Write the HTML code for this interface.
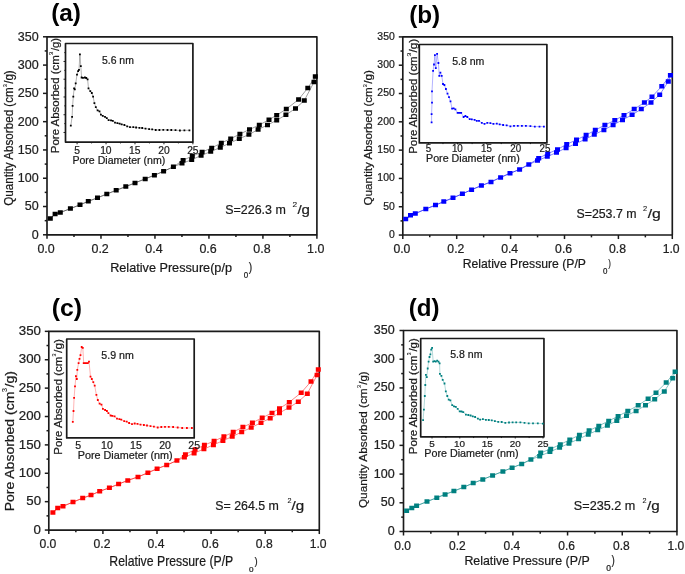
<!DOCTYPE html>
<html><head><meta charset="utf-8"><style>
html,body{margin:0;padding:0;background:#fff;}
svg{display:block;will-change:transform;}
text{font-family:"Liberation Sans", sans-serif;stroke:#1a1a1a;stroke-width:0.22px;}
</style></head><body>
<svg width="685" height="574" viewBox="0 0 685 574">
<rect width="685" height="574" fill="#fff"/>
<rect x="47.00" y="36.80" width="269.90" height="198.00" fill="none" stroke="#1a1a1a" stroke-width="1.65" stroke-linejoin="round"/>
<line x1="43.00" y1="234.80" x2="47.00" y2="234.80" stroke="#1a1a1a" stroke-width="1.5"/>
<text x="31.72" y="238.73" font-size="13.10" font-weight="normal" fill="#222" textLength="6.97" lengthAdjust="spacingAndGlyphs">0</text>
<line x1="44.70" y1="220.66" x2="47.00" y2="220.66" stroke="#1a1a1a" stroke-width="1.5"/>
<line x1="43.00" y1="206.51" x2="47.00" y2="206.51" stroke="#1a1a1a" stroke-width="1.5"/>
<text x="24.77" y="210.45" font-size="13.10" font-weight="normal" fill="#222" textLength="13.93" lengthAdjust="spacingAndGlyphs">50</text>
<line x1="44.70" y1="192.37" x2="47.00" y2="192.37" stroke="#1a1a1a" stroke-width="1.5"/>
<line x1="43.00" y1="178.23" x2="47.00" y2="178.23" stroke="#1a1a1a" stroke-width="1.5"/>
<text x="17.79" y="182.16" font-size="13.10" font-weight="normal" fill="#222" textLength="20.90" lengthAdjust="spacingAndGlyphs">100</text>
<line x1="44.70" y1="164.09" x2="47.00" y2="164.09" stroke="#1a1a1a" stroke-width="1.5"/>
<line x1="43.00" y1="149.94" x2="47.00" y2="149.94" stroke="#1a1a1a" stroke-width="1.5"/>
<text x="17.79" y="153.88" font-size="13.10" font-weight="normal" fill="#222" textLength="20.90" lengthAdjust="spacingAndGlyphs">150</text>
<line x1="44.70" y1="135.80" x2="47.00" y2="135.80" stroke="#1a1a1a" stroke-width="1.5"/>
<line x1="43.00" y1="121.66" x2="47.00" y2="121.66" stroke="#1a1a1a" stroke-width="1.5"/>
<text x="17.79" y="125.59" font-size="13.10" font-weight="normal" fill="#222" textLength="20.90" lengthAdjust="spacingAndGlyphs">200</text>
<line x1="44.70" y1="107.51" x2="47.00" y2="107.51" stroke="#1a1a1a" stroke-width="1.5"/>
<line x1="43.00" y1="93.37" x2="47.00" y2="93.37" stroke="#1a1a1a" stroke-width="1.5"/>
<text x="17.79" y="97.31" font-size="13.10" font-weight="normal" fill="#222" textLength="20.90" lengthAdjust="spacingAndGlyphs">250</text>
<line x1="44.70" y1="79.23" x2="47.00" y2="79.23" stroke="#1a1a1a" stroke-width="1.5"/>
<line x1="43.00" y1="65.09" x2="47.00" y2="65.09" stroke="#1a1a1a" stroke-width="1.5"/>
<text x="17.79" y="69.02" font-size="13.10" font-weight="normal" fill="#222" textLength="20.90" lengthAdjust="spacingAndGlyphs">300</text>
<line x1="44.70" y1="50.94" x2="47.00" y2="50.94" stroke="#1a1a1a" stroke-width="1.5"/>
<line x1="43.00" y1="36.80" x2="47.00" y2="36.80" stroke="#1a1a1a" stroke-width="1.5"/>
<text x="17.79" y="40.73" font-size="13.10" font-weight="normal" fill="#222" textLength="20.90" lengthAdjust="spacingAndGlyphs">350</text>
<line x1="47.00" y1="234.80" x2="47.00" y2="238.80" stroke="#1a1a1a" stroke-width="1.5"/>
<text x="37.42" y="252.50" font-size="13.40" font-weight="normal" fill="#222" textLength="17.32" lengthAdjust="spacingAndGlyphs">0.0</text>
<line x1="73.99" y1="234.80" x2="73.99" y2="237.10" stroke="#1a1a1a" stroke-width="1.5"/>
<line x1="100.98" y1="234.80" x2="100.98" y2="238.80" stroke="#1a1a1a" stroke-width="1.5"/>
<text x="91.48" y="252.50" font-size="13.40" font-weight="normal" fill="#222" textLength="17.32" lengthAdjust="spacingAndGlyphs">0.2</text>
<line x1="127.97" y1="234.80" x2="127.97" y2="237.10" stroke="#1a1a1a" stroke-width="1.5"/>
<line x1="154.96" y1="234.80" x2="154.96" y2="238.80" stroke="#1a1a1a" stroke-width="1.5"/>
<text x="145.32" y="252.50" font-size="13.40" font-weight="normal" fill="#222" textLength="17.32" lengthAdjust="spacingAndGlyphs">0.4</text>
<line x1="181.95" y1="234.80" x2="181.95" y2="237.10" stroke="#1a1a1a" stroke-width="1.5"/>
<line x1="208.94" y1="234.80" x2="208.94" y2="238.80" stroke="#1a1a1a" stroke-width="1.5"/>
<text x="199.39" y="252.50" font-size="13.40" font-weight="normal" fill="#222" textLength="17.32" lengthAdjust="spacingAndGlyphs">0.6</text>
<line x1="235.93" y1="234.80" x2="235.93" y2="237.10" stroke="#1a1a1a" stroke-width="1.5"/>
<line x1="262.92" y1="234.80" x2="262.92" y2="238.80" stroke="#1a1a1a" stroke-width="1.5"/>
<text x="253.37" y="252.50" font-size="13.40" font-weight="normal" fill="#222" textLength="17.32" lengthAdjust="spacingAndGlyphs">0.8</text>
<line x1="289.91" y1="234.80" x2="289.91" y2="237.10" stroke="#1a1a1a" stroke-width="1.5"/>
<line x1="316.90" y1="234.80" x2="316.90" y2="238.80" stroke="#1a1a1a" stroke-width="1.5"/>
<text x="307.11" y="252.50" font-size="13.40" font-weight="normal" fill="#222" textLength="17.32" lengthAdjust="spacingAndGlyphs">1.0</text>
<polyline points="50.30,218.50 55.10,214.10 60.30,212.50 70.40,208.60 80.00,204.80 88.30,201.30 97.50,197.80 106.80,194.00 116.20,190.30 125.80,186.60 135.00,182.90 145.20,178.90 154.40,175.20 163.60,171.30 173.40,166.80 182.00,163.30 191.70,159.80 201.10,155.50 210.70,151.60 220.30,147.50 229.50,143.20 239.30,138.70 248.90,134.60 258.10,129.50 267.50,125.00 276.70,120.30 285.90,114.80 295.50,108.50 304.30,100.50 314.00,82.10 315.30,76.50" fill="none" stroke="#333" stroke-width="0.6" stroke-opacity="0.8"/>
<polyline points="50.30,218.50 55.10,214.10 60.30,212.50 70.40,208.60 80.00,204.80 88.30,201.30 97.50,197.80 106.80,194.00 116.20,190.30 125.80,186.60 135.00,182.90 145.20,178.90 154.40,175.20 163.60,171.30 173.40,166.80 183.10,160.20 192.30,156.10 202.10,152.00 211.70,147.90 221.30,143.00 230.70,138.70 239.90,134.00 249.50,129.50 259.30,125.00 269.00,119.70 276.70,115.20 286.30,109.10 298.60,99.50 307.80,88.00 315.30,76.50" fill="none" stroke="#333" stroke-width="0.6" stroke-opacity="0.8"/>
<path d="M47.80 216.25h5.0v4.5h-5.0zM52.60 211.85h5.0v4.5h-5.0zM57.80 210.25h5.0v4.5h-5.0zM67.90 206.35h5.0v4.5h-5.0zM77.50 202.55h5.0v4.5h-5.0zM85.80 199.05h5.0v4.5h-5.0zM95.00 195.55h5.0v4.5h-5.0zM104.30 191.75h5.0v4.5h-5.0zM113.70 188.05h5.0v4.5h-5.0zM123.30 184.35h5.0v4.5h-5.0zM132.50 180.65h5.0v4.5h-5.0zM142.70 176.65h5.0v4.5h-5.0zM151.90 172.95h5.0v4.5h-5.0zM161.10 169.05h5.0v4.5h-5.0zM170.90 164.55h5.0v4.5h-5.0zM179.50 161.05h5.0v4.5h-5.0zM189.20 157.55h5.0v4.5h-5.0zM198.60 153.25h5.0v4.5h-5.0zM208.20 149.35h5.0v4.5h-5.0zM217.80 145.25h5.0v4.5h-5.0zM227.00 140.95h5.0v4.5h-5.0zM236.80 136.45h5.0v4.5h-5.0zM246.40 132.35h5.0v4.5h-5.0zM255.60 127.25h5.0v4.5h-5.0zM265.00 122.75h5.0v4.5h-5.0zM274.20 118.05h5.0v4.5h-5.0zM283.40 112.55h5.0v4.5h-5.0zM293.00 106.25h5.0v4.5h-5.0zM301.80 98.25h5.0v4.5h-5.0zM311.50 79.85h5.0v4.5h-5.0zM312.80 74.25h5.0v4.5h-5.0zM180.60 157.95h5.0v4.5h-5.0zM189.80 153.85h5.0v4.5h-5.0zM199.60 149.75h5.0v4.5h-5.0zM209.20 145.65h5.0v4.5h-5.0zM218.80 140.75h5.0v4.5h-5.0zM228.20 136.45h5.0v4.5h-5.0zM237.40 131.75h5.0v4.5h-5.0zM247.00 127.25h5.0v4.5h-5.0zM256.80 122.75h5.0v4.5h-5.0zM266.50 117.45h5.0v4.5h-5.0zM274.20 112.95h5.0v4.5h-5.0zM283.80 106.85h5.0v4.5h-5.0zM296.10 97.25h5.0v4.5h-5.0zM305.30 85.75h5.0v4.5h-5.0zM312.80 74.25h5.0v4.5h-5.0z" fill="#000000"/>
<text x="51.18" y="20.80" font-size="23.40" font-weight="bold" style="stroke-width:0px" fill="#000" textLength="29.83" lengthAdjust="spacingAndGlyphs">(a)</text>
<text x="110.15" y="272.20" font-size="13.40" font-weight="normal" fill="#1a1a1a" textLength="121.86" lengthAdjust="spacingAndGlyphs">Relative Pressure(p/p</text>
<text x="243.68" y="277.60" font-size="8.20" font-weight="normal" fill="#1a1a1a" textLength="4.43" lengthAdjust="spacingAndGlyphs">0</text>
<text x="248.82" y="271.00" font-size="12.10" font-weight="normal" fill="#1a1a1a" textLength="3.39" lengthAdjust="spacingAndGlyphs">)</text>
<text transform="translate(12.60,205.20) rotate(-90)" x="-0.55" y="0" font-size="12.30" font-weight="normal" fill="#1a1a1a" textLength="118.53" lengthAdjust="spacingAndGlyphs">Quantity Absorbed (cm</text>
<text transform="translate(7.00,87.00) rotate(-90)" x="-0.21" y="0" font-size="5.80" font-weight="normal" style="stroke-width:0.1px" fill="#1a1a1a" textLength="3.16" lengthAdjust="spacingAndGlyphs">3</text>
<text transform="translate(12.60,83.80) rotate(-90)" x="-0.00" y="0" font-size="12.30" font-weight="normal" fill="#1a1a1a" textLength="13.49" lengthAdjust="spacingAndGlyphs">/g)</text>
<text x="225.24" y="214.00" font-size="13.40" font-weight="normal" fill="#1a1a1a" textLength="60.56" lengthAdjust="spacingAndGlyphs">S=226.3 m</text>
<text x="292.48" y="206.90" font-size="7.60" font-weight="normal" style="stroke-width:0.1px" fill="#1a1a1a" textLength="4.64" lengthAdjust="spacingAndGlyphs">2</text>
<text x="297.40" y="214.00" font-size="13.40" font-weight="normal" fill="#1a1a1a" textLength="12.56" lengthAdjust="spacingAndGlyphs">/g</text>
<rect x="65.50" y="43.50" width="127.40" height="98.60" fill="#fff" stroke="#1a1a1a" stroke-width="1.7" stroke-linejoin="round"/>
<line x1="77.08" y1="142.10" x2="77.08" y2="144.30" stroke="#1a1a1a" stroke-width="1.0"/>
<text x="74.22" y="153.70" font-size="10.30" font-weight="normal" fill="#222" textLength="5.73" lengthAdjust="spacingAndGlyphs">5</text>
<line x1="91.56" y1="142.10" x2="91.56" y2="143.40" stroke="#1a1a1a" stroke-width="1.0"/>
<line x1="106.04" y1="142.10" x2="106.04" y2="144.30" stroke="#1a1a1a" stroke-width="1.0"/>
<text x="100.13" y="153.70" font-size="10.30" font-weight="normal" fill="#222" textLength="11.46" lengthAdjust="spacingAndGlyphs">10</text>
<line x1="120.51" y1="142.10" x2="120.51" y2="143.40" stroke="#1a1a1a" stroke-width="1.0"/>
<line x1="134.99" y1="142.10" x2="134.99" y2="144.30" stroke="#1a1a1a" stroke-width="1.0"/>
<text x="129.09" y="153.70" font-size="10.30" font-weight="normal" fill="#222" textLength="11.46" lengthAdjust="spacingAndGlyphs">15</text>
<line x1="149.47" y1="142.10" x2="149.47" y2="143.40" stroke="#1a1a1a" stroke-width="1.0"/>
<line x1="163.95" y1="142.10" x2="163.95" y2="144.30" stroke="#1a1a1a" stroke-width="1.0"/>
<text x="158.16" y="153.70" font-size="10.30" font-weight="normal" fill="#222" textLength="11.46" lengthAdjust="spacingAndGlyphs">20</text>
<line x1="178.42" y1="142.10" x2="178.42" y2="143.40" stroke="#1a1a1a" stroke-width="1.0"/>
<line x1="192.90" y1="142.10" x2="192.90" y2="144.30" stroke="#1a1a1a" stroke-width="1.0"/>
<text x="187.13" y="153.70" font-size="10.30" font-weight="normal" fill="#222" textLength="11.46" lengthAdjust="spacingAndGlyphs">25</text>
<line x1="64.30" y1="52.60" x2="65.50" y2="52.60" stroke="#111" stroke-width="0.9"/>
<line x1="63.50" y1="61.48" x2="65.50" y2="61.48" stroke="#111" stroke-width="0.9"/>
<line x1="64.30" y1="70.35" x2="65.50" y2="70.35" stroke="#111" stroke-width="0.9"/>
<line x1="63.50" y1="79.22" x2="65.50" y2="79.22" stroke="#111" stroke-width="0.9"/>
<line x1="64.30" y1="88.10" x2="65.50" y2="88.10" stroke="#111" stroke-width="0.9"/>
<line x1="63.50" y1="96.97" x2="65.50" y2="96.97" stroke="#111" stroke-width="0.9"/>
<line x1="64.30" y1="105.85" x2="65.50" y2="105.85" stroke="#111" stroke-width="0.9"/>
<line x1="63.50" y1="114.72" x2="65.50" y2="114.72" stroke="#111" stroke-width="0.9"/>
<line x1="64.30" y1="123.60" x2="65.50" y2="123.60" stroke="#111" stroke-width="0.9"/>
<line x1="63.50" y1="132.47" x2="65.50" y2="132.47" stroke="#111" stroke-width="0.9"/>
<polyline points="70.80,125.60 72.10,116.80 72.60,105.80 73.30,96.70 74.10,88.40 74.80,89.40 75.70,83.30 77.00,74.70 78.10,71.10 79.00,69.80 79.90,54.30 80.80,66.10 81.60,77.50 83.00,77.80 84.90,77.50 86.30,78.00 87.60,79.30 88.50,88.40 90.30,91.20 91.80,93.00 93.10,96.70 94.40,103.10 95.80,107.10 97.60,110.40 99.50,111.30 100.90,114.60 102.80,115.90 105.00,116.80 106.80,118.20 108.60,120.10 111.00,120.40 112.80,120.80 115.00,122.60 117.40,123.20 119.60,123.70 121.70,124.40 124.40,125.00 127.20,126.40 130.00,127.20 133.30,127.20 136.10,127.50 139.40,127.80 142.20,128.00 145.50,128.60 149.10,129.10 152.20,129.40 155.70,130.00 159.40,130.00 163.30,129.80 167.50,130.00 171.30,130.00 175.50,130.20 179.90,130.50 184.40,130.30 189.40,130.30" fill="none" stroke="#000" stroke-width="0.5" stroke-opacity="0.6"/>
<path d="M69.90 124.70h1.8v1.8h-1.8zM71.20 115.90h1.8v1.8h-1.8zM71.70 104.90h1.8v1.8h-1.8zM72.40 95.80h1.8v1.8h-1.8zM73.20 87.50h1.8v1.8h-1.8zM73.90 88.50h1.8v1.8h-1.8zM74.80 82.40h1.8v1.8h-1.8zM76.10 73.80h1.8v1.8h-1.8zM77.20 70.20h1.8v1.8h-1.8zM78.10 68.90h1.8v1.8h-1.8zM79.00 53.40h1.8v1.8h-1.8zM79.90 65.20h1.8v1.8h-1.8zM80.70 76.60h1.8v1.8h-1.8zM82.10 76.90h1.8v1.8h-1.8zM84.00 76.60h1.8v1.8h-1.8zM85.40 77.10h1.8v1.8h-1.8zM86.70 78.40h1.8v1.8h-1.8zM87.60 87.50h1.8v1.8h-1.8zM89.40 90.30h1.8v1.8h-1.8zM90.90 92.10h1.8v1.8h-1.8zM92.20 95.80h1.8v1.8h-1.8zM93.50 102.20h1.8v1.8h-1.8zM94.90 106.20h1.8v1.8h-1.8zM96.70 109.50h1.8v1.8h-1.8zM98.60 110.40h1.8v1.8h-1.8zM100.00 113.70h1.8v1.8h-1.8zM101.90 115.00h1.8v1.8h-1.8zM104.10 115.90h1.8v1.8h-1.8zM105.90 117.30h1.8v1.8h-1.8zM107.70 119.20h1.8v1.8h-1.8zM110.10 119.50h1.8v1.8h-1.8zM111.90 119.90h1.8v1.8h-1.8zM114.10 121.70h1.8v1.8h-1.8zM116.50 122.30h1.8v1.8h-1.8zM118.70 122.80h1.8v1.8h-1.8zM120.80 123.50h1.8v1.8h-1.8zM123.50 124.10h1.8v1.8h-1.8zM126.30 125.50h1.8v1.8h-1.8zM129.10 126.30h1.8v1.8h-1.8zM132.40 126.30h1.8v1.8h-1.8zM135.20 126.60h1.8v1.8h-1.8zM138.50 126.90h1.8v1.8h-1.8zM141.30 127.10h1.8v1.8h-1.8zM144.60 127.70h1.8v1.8h-1.8zM148.20 128.20h1.8v1.8h-1.8zM151.30 128.50h1.8v1.8h-1.8zM154.80 129.10h1.8v1.8h-1.8zM158.50 129.10h1.8v1.8h-1.8zM162.40 128.90h1.8v1.8h-1.8zM166.60 129.10h1.8v1.8h-1.8zM170.40 129.10h1.8v1.8h-1.8zM174.60 129.30h1.8v1.8h-1.8zM179.00 129.60h1.8v1.8h-1.8zM183.50 129.40h1.8v1.8h-1.8zM188.50 129.40h1.8v1.8h-1.8z" fill="#000"/>
<text x="101.98" y="64.20" font-size="10.40" font-weight="normal" fill="#1a1a1a" textLength="31.89" lengthAdjust="spacingAndGlyphs">5.6 nm</text>
<text x="72.43" y="163.80" font-size="10.40" font-weight="normal" fill="#1a1a1a" textLength="92.81" lengthAdjust="spacingAndGlyphs">Pore Diameter (nm)</text>
<text transform="translate(58.80,152.20) rotate(-90)" x="-0.94" y="0" font-size="11.20" font-weight="normal" fill="#1a1a1a" textLength="97.99" lengthAdjust="spacingAndGlyphs">Pore Absorbed (cm</text>
<text transform="translate(52.70,55.00) rotate(-90)" x="-0.24" y="0" font-size="6.00" font-weight="normal" style="stroke-width:0.1px" fill="#1a1a1a" textLength="3.63" lengthAdjust="spacingAndGlyphs">3</text>
<text transform="translate(58.80,51.00) rotate(-90)" x="-0.00" y="0" font-size="11.20" font-weight="normal" fill="#1a1a1a" textLength="13.07" lengthAdjust="spacingAndGlyphs">/g)</text>
<rect x="402.80" y="36.90" width="269.50" height="198.15" fill="none" stroke="#1a1a1a" stroke-width="1.65" stroke-linejoin="round"/>
<line x1="398.80" y1="235.05" x2="402.80" y2="235.05" stroke="#1a1a1a" stroke-width="1.5"/>
<text x="388.92" y="237.89" font-size="10.00" font-weight="normal" fill="#222" textLength="5.78" lengthAdjust="spacingAndGlyphs">0</text>
<line x1="400.50" y1="220.90" x2="402.80" y2="220.90" stroke="#1a1a1a" stroke-width="1.5"/>
<line x1="398.80" y1="206.74" x2="402.80" y2="206.74" stroke="#1a1a1a" stroke-width="1.5"/>
<text x="383.15" y="209.58" font-size="10.00" font-weight="normal" fill="#222" textLength="11.57" lengthAdjust="spacingAndGlyphs">50</text>
<line x1="400.50" y1="192.59" x2="402.80" y2="192.59" stroke="#1a1a1a" stroke-width="1.5"/>
<line x1="398.80" y1="178.44" x2="402.80" y2="178.44" stroke="#1a1a1a" stroke-width="1.5"/>
<text x="377.35" y="181.27" font-size="10.00" font-weight="normal" fill="#222" textLength="17.35" lengthAdjust="spacingAndGlyphs">100</text>
<line x1="400.50" y1="164.28" x2="402.80" y2="164.28" stroke="#1a1a1a" stroke-width="1.5"/>
<line x1="398.80" y1="150.13" x2="402.80" y2="150.13" stroke="#1a1a1a" stroke-width="1.5"/>
<text x="377.35" y="152.97" font-size="10.00" font-weight="normal" fill="#222" textLength="17.35" lengthAdjust="spacingAndGlyphs">150</text>
<line x1="400.50" y1="135.98" x2="402.80" y2="135.98" stroke="#1a1a1a" stroke-width="1.5"/>
<line x1="398.80" y1="121.82" x2="402.80" y2="121.82" stroke="#1a1a1a" stroke-width="1.5"/>
<text x="377.35" y="124.66" font-size="10.00" font-weight="normal" fill="#222" textLength="17.35" lengthAdjust="spacingAndGlyphs">200</text>
<line x1="400.50" y1="107.67" x2="402.80" y2="107.67" stroke="#1a1a1a" stroke-width="1.5"/>
<line x1="398.80" y1="93.51" x2="402.80" y2="93.51" stroke="#1a1a1a" stroke-width="1.5"/>
<text x="377.35" y="96.35" font-size="10.00" font-weight="normal" fill="#222" textLength="17.35" lengthAdjust="spacingAndGlyphs">250</text>
<line x1="400.50" y1="79.36" x2="402.80" y2="79.36" stroke="#1a1a1a" stroke-width="1.5"/>
<line x1="398.80" y1="65.21" x2="402.80" y2="65.21" stroke="#1a1a1a" stroke-width="1.5"/>
<text x="377.35" y="68.04" font-size="10.00" font-weight="normal" fill="#222" textLength="17.35" lengthAdjust="spacingAndGlyphs">300</text>
<line x1="400.50" y1="51.05" x2="402.80" y2="51.05" stroke="#1a1a1a" stroke-width="1.5"/>
<line x1="398.80" y1="36.90" x2="402.80" y2="36.90" stroke="#1a1a1a" stroke-width="1.5"/>
<text x="377.35" y="39.74" font-size="10.00" font-weight="normal" fill="#222" textLength="17.35" lengthAdjust="spacingAndGlyphs">350</text>
<line x1="402.80" y1="235.05" x2="402.80" y2="239.05" stroke="#1a1a1a" stroke-width="1.5"/>
<text x="393.41" y="252.70" font-size="12.20" font-weight="normal" fill="#222" textLength="16.96" lengthAdjust="spacingAndGlyphs">0.0</text>
<line x1="429.75" y1="235.05" x2="429.75" y2="237.35" stroke="#1a1a1a" stroke-width="1.5"/>
<line x1="456.70" y1="235.05" x2="456.70" y2="239.05" stroke="#1a1a1a" stroke-width="1.5"/>
<text x="447.38" y="252.70" font-size="12.20" font-weight="normal" fill="#222" textLength="16.96" lengthAdjust="spacingAndGlyphs">0.2</text>
<line x1="483.65" y1="235.05" x2="483.65" y2="237.35" stroke="#1a1a1a" stroke-width="1.5"/>
<line x1="510.60" y1="235.05" x2="510.60" y2="239.05" stroke="#1a1a1a" stroke-width="1.5"/>
<text x="501.14" y="252.70" font-size="12.20" font-weight="normal" fill="#222" textLength="16.96" lengthAdjust="spacingAndGlyphs">0.4</text>
<line x1="537.55" y1="235.05" x2="537.55" y2="237.35" stroke="#1a1a1a" stroke-width="1.5"/>
<line x1="564.50" y1="235.05" x2="564.50" y2="239.05" stroke="#1a1a1a" stroke-width="1.5"/>
<text x="555.14" y="252.70" font-size="12.20" font-weight="normal" fill="#222" textLength="16.96" lengthAdjust="spacingAndGlyphs">0.6</text>
<line x1="591.45" y1="235.05" x2="591.45" y2="237.35" stroke="#1a1a1a" stroke-width="1.5"/>
<line x1="618.40" y1="235.05" x2="618.40" y2="239.05" stroke="#1a1a1a" stroke-width="1.5"/>
<text x="609.04" y="252.70" font-size="12.20" font-weight="normal" fill="#222" textLength="16.96" lengthAdjust="spacingAndGlyphs">0.8</text>
<line x1="645.35" y1="235.05" x2="645.35" y2="237.35" stroke="#1a1a1a" stroke-width="1.5"/>
<line x1="672.30" y1="235.05" x2="672.30" y2="239.05" stroke="#1a1a1a" stroke-width="1.5"/>
<text x="662.69" y="252.70" font-size="12.20" font-weight="normal" fill="#222" textLength="16.96" lengthAdjust="spacingAndGlyphs">1.0</text>
<polyline points="405.70,219.10 410.50,215.30 415.30,213.60 425.80,209.00 435.50,205.10 443.80,201.60 453.00,197.80 462.40,193.80 471.60,189.70 481.40,185.60 491.00,181.90 500.60,177.40 510.00,173.30 519.60,169.40 528.80,164.50 537.50,160.60 547.30,156.50 556.50,152.60 566.10,147.90 575.50,143.80 585.10,139.30 594.30,134.60 603.90,129.90 613.10,125.00 622.50,119.90 632.10,114.80 641.30,109.10 651.00,102.50 659.70,94.80 668.30,81.50 670.40,75.30" fill="none" stroke="#0000ff" stroke-width="0.6" stroke-opacity="0.8"/>
<polyline points="405.70,219.10 410.50,215.30 415.30,213.60 425.80,209.00 435.50,205.10 443.80,201.60 453.00,197.80 462.40,193.80 471.60,189.70 481.40,185.60 491.00,181.90 500.60,177.40 510.00,173.30 519.60,169.40 528.80,164.50 538.70,158.20 547.70,153.70 557.50,149.40 566.70,144.30 576.50,139.80 586.10,135.10 595.30,130.10 604.90,125.00 614.80,120.30 624.00,115.20 634.20,109.10 644.40,102.50 652.00,96.80 661.80,86.20 670.40,75.30" fill="none" stroke="#0000ff" stroke-width="0.6" stroke-opacity="0.8"/>
<path d="M403.20 216.85h5.0v4.5h-5.0zM408.00 213.05h5.0v4.5h-5.0zM412.80 211.35h5.0v4.5h-5.0zM423.30 206.75h5.0v4.5h-5.0zM433.00 202.85h5.0v4.5h-5.0zM441.30 199.35h5.0v4.5h-5.0zM450.50 195.55h5.0v4.5h-5.0zM459.90 191.55h5.0v4.5h-5.0zM469.10 187.45h5.0v4.5h-5.0zM478.90 183.35h5.0v4.5h-5.0zM488.50 179.65h5.0v4.5h-5.0zM498.10 175.15h5.0v4.5h-5.0zM507.50 171.05h5.0v4.5h-5.0zM517.10 167.15h5.0v4.5h-5.0zM526.30 162.25h5.0v4.5h-5.0zM535.00 158.35h5.0v4.5h-5.0zM544.80 154.25h5.0v4.5h-5.0zM554.00 150.35h5.0v4.5h-5.0zM563.60 145.65h5.0v4.5h-5.0zM573.00 141.55h5.0v4.5h-5.0zM582.60 137.05h5.0v4.5h-5.0zM591.80 132.35h5.0v4.5h-5.0zM601.40 127.65h5.0v4.5h-5.0zM610.60 122.75h5.0v4.5h-5.0zM620.00 117.65h5.0v4.5h-5.0zM629.60 112.55h5.0v4.5h-5.0zM638.80 106.85h5.0v4.5h-5.0zM648.50 100.25h5.0v4.5h-5.0zM657.20 92.55h5.0v4.5h-5.0zM665.80 79.25h5.0v4.5h-5.0zM667.90 73.05h5.0v4.5h-5.0zM536.20 155.95h5.0v4.5h-5.0zM545.20 151.45h5.0v4.5h-5.0zM555.00 147.15h5.0v4.5h-5.0zM564.20 142.05h5.0v4.5h-5.0zM574.00 137.55h5.0v4.5h-5.0zM583.60 132.85h5.0v4.5h-5.0zM592.80 127.85h5.0v4.5h-5.0zM602.40 122.75h5.0v4.5h-5.0zM612.30 118.05h5.0v4.5h-5.0zM621.50 112.95h5.0v4.5h-5.0zM631.70 106.85h5.0v4.5h-5.0zM641.90 100.25h5.0v4.5h-5.0zM649.50 94.55h5.0v4.5h-5.0zM659.30 83.95h5.0v4.5h-5.0zM667.90 73.05h5.0v4.5h-5.0z" fill="#0000ff"/>
<text x="409.19" y="22.80" font-size="23.40" font-weight="bold" style="stroke-width:0px" fill="#000" textLength="31.01" lengthAdjust="spacingAndGlyphs">(b)</text>
<text x="462.69" y="268.10" font-size="13.40" font-weight="normal" fill="#1a1a1a" textLength="123.24" lengthAdjust="spacingAndGlyphs">Relative Pressure (P/P</text>
<text x="602.88" y="273.50" font-size="8.20" font-weight="normal" fill="#1a1a1a" textLength="4.43" lengthAdjust="spacingAndGlyphs">0</text>
<text x="608.34" y="267.10" font-size="11.70" font-weight="normal" fill="#1a1a1a" textLength="2.64" lengthAdjust="spacingAndGlyphs">)</text>
<text transform="translate(372.20,204.90) rotate(-90)" x="-0.55" y="0" font-size="11.50" font-weight="normal" fill="#1a1a1a" textLength="118.23" lengthAdjust="spacingAndGlyphs">Quantity Absorbed (cm</text>
<text transform="translate(367.10,87.00) rotate(-90)" x="-0.21" y="0" font-size="5.60" font-weight="normal" style="stroke-width:0.1px" fill="#1a1a1a" textLength="3.04" lengthAdjust="spacingAndGlyphs">3</text>
<text transform="translate(372.20,83.80) rotate(-90)" x="-0.00" y="0" font-size="11.50" font-weight="normal" fill="#1a1a1a" textLength="13.59" lengthAdjust="spacingAndGlyphs">/g)</text>
<text x="576.44" y="218.10" font-size="13.20" font-weight="normal" fill="#1a1a1a" textLength="60.05" lengthAdjust="spacingAndGlyphs">S=253.7 m</text>
<text x="643.13" y="211.00" font-size="7.20" font-weight="normal" style="stroke-width:0.1px" fill="#1a1a1a" textLength="4.16" lengthAdjust="spacingAndGlyphs">2</text>
<text x="647.70" y="218.10" font-size="13.20" font-weight="normal" fill="#1a1a1a" textLength="13.11" lengthAdjust="spacingAndGlyphs">/g</text>
<rect x="419.30" y="44.50" width="127.60" height="98.40" fill="#fff" stroke="#1a1a1a" stroke-width="1.7" stroke-linejoin="round"/>
<line x1="428.39" y1="142.90" x2="428.39" y2="144.40" stroke="#1a1a1a" stroke-width="1.0"/>
<text x="425.68" y="151.50" font-size="10.30" font-weight="normal" fill="#222" textLength="5.44" lengthAdjust="spacingAndGlyphs">5</text>
<line x1="442.97" y1="142.90" x2="442.97" y2="144.10" stroke="#1a1a1a" stroke-width="1.0"/>
<line x1="457.54" y1="142.90" x2="457.54" y2="144.40" stroke="#1a1a1a" stroke-width="1.0"/>
<text x="451.93" y="151.50" font-size="10.30" font-weight="normal" fill="#222" textLength="10.88" lengthAdjust="spacingAndGlyphs">10</text>
<line x1="472.11" y1="142.90" x2="472.11" y2="144.10" stroke="#1a1a1a" stroke-width="1.0"/>
<line x1="486.68" y1="142.90" x2="486.68" y2="144.40" stroke="#1a1a1a" stroke-width="1.0"/>
<text x="481.08" y="151.50" font-size="10.30" font-weight="normal" fill="#222" textLength="10.88" lengthAdjust="spacingAndGlyphs">15</text>
<line x1="501.26" y1="142.90" x2="501.26" y2="144.10" stroke="#1a1a1a" stroke-width="1.0"/>
<line x1="515.83" y1="142.90" x2="515.83" y2="144.40" stroke="#1a1a1a" stroke-width="1.0"/>
<text x="510.34" y="151.50" font-size="10.30" font-weight="normal" fill="#222" textLength="10.88" lengthAdjust="spacingAndGlyphs">20</text>
<line x1="530.40" y1="142.90" x2="530.40" y2="144.10" stroke="#1a1a1a" stroke-width="1.0"/>
<line x1="544.98" y1="142.90" x2="544.98" y2="144.40" stroke="#1a1a1a" stroke-width="1.0"/>
<text x="539.50" y="151.50" font-size="10.30" font-weight="normal" fill="#222" textLength="10.88" lengthAdjust="spacingAndGlyphs">25</text>
<polyline points="431.60,122.40 431.60,114.20 432.00,102.70 432.00,91.40 433.10,70.90 434.00,64.50 434.90,55.20 435.80,68.10 437.10,53.90 438.40,63.00 439.30,75.80 440.40,72.70 441.70,75.80 443.00,84.00 444.40,85.00 445.90,89.00 447.50,93.60 449.00,97.20 450.50,101.40 452.10,108.70 453.60,108.40 455.40,109.30 457.60,112.80 459.40,112.80 461.20,112.90 463.60,117.00 465.40,116.00 467.30,117.00 469.70,119.10 471.80,119.30 474.60,119.80 476.80,120.80 479.00,120.80 481.80,122.80 484.50,123.90 487.30,122.80 490.40,123.10 493.40,123.90 496.80,123.70 499.70,124.40 503.10,125.00 506.70,125.30 510.40,126.30 514.00,125.90 517.80,125.90 521.90,125.90 525.90,125.90 530.40,126.10 534.80,126.60 539.50,126.60 543.90,126.60" fill="none" stroke="#0000ff" stroke-width="0.5" stroke-opacity="0.6"/>
<path d="M430.70 121.50h1.8v1.8h-1.8zM430.70 113.30h1.8v1.8h-1.8zM431.10 101.80h1.8v1.8h-1.8zM431.10 90.50h1.8v1.8h-1.8zM432.20 70.00h1.8v1.8h-1.8zM433.10 63.60h1.8v1.8h-1.8zM434.00 54.30h1.8v1.8h-1.8zM434.90 67.20h1.8v1.8h-1.8zM436.20 53.00h1.8v1.8h-1.8zM437.50 62.10h1.8v1.8h-1.8zM438.40 74.90h1.8v1.8h-1.8zM439.50 71.80h1.8v1.8h-1.8zM440.80 74.90h1.8v1.8h-1.8zM442.10 83.10h1.8v1.8h-1.8zM443.50 84.10h1.8v1.8h-1.8zM445.00 88.10h1.8v1.8h-1.8zM446.60 92.70h1.8v1.8h-1.8zM448.10 96.30h1.8v1.8h-1.8zM449.60 100.50h1.8v1.8h-1.8zM451.20 107.80h1.8v1.8h-1.8zM452.70 107.50h1.8v1.8h-1.8zM454.50 108.40h1.8v1.8h-1.8zM456.70 111.90h1.8v1.8h-1.8zM458.50 111.90h1.8v1.8h-1.8zM460.30 112.00h1.8v1.8h-1.8zM462.70 116.10h1.8v1.8h-1.8zM464.50 115.10h1.8v1.8h-1.8zM466.40 116.10h1.8v1.8h-1.8zM468.80 118.20h1.8v1.8h-1.8zM470.90 118.40h1.8v1.8h-1.8zM473.70 118.90h1.8v1.8h-1.8zM475.90 119.90h1.8v1.8h-1.8zM478.10 119.90h1.8v1.8h-1.8zM480.90 121.90h1.8v1.8h-1.8zM483.60 123.00h1.8v1.8h-1.8zM486.40 121.90h1.8v1.8h-1.8zM489.50 122.20h1.8v1.8h-1.8zM492.50 123.00h1.8v1.8h-1.8zM495.90 122.80h1.8v1.8h-1.8zM498.80 123.50h1.8v1.8h-1.8zM502.20 124.10h1.8v1.8h-1.8zM505.80 124.40h1.8v1.8h-1.8zM509.50 125.40h1.8v1.8h-1.8zM513.10 125.00h1.8v1.8h-1.8zM516.90 125.00h1.8v1.8h-1.8zM521.00 125.00h1.8v1.8h-1.8zM525.00 125.00h1.8v1.8h-1.8zM529.50 125.20h1.8v1.8h-1.8zM533.90 125.70h1.8v1.8h-1.8zM538.60 125.70h1.8v1.8h-1.8zM543.00 125.70h1.8v1.8h-1.8z" fill="#0000ff"/>
<text x="452.18" y="64.90" font-size="10.50" font-weight="normal" fill="#1a1a1a" textLength="32.20" lengthAdjust="spacingAndGlyphs">5.8 nm</text>
<text x="426.02" y="161.50" font-size="10.00" font-weight="normal" fill="#1a1a1a" textLength="93.82" lengthAdjust="spacingAndGlyphs">Pore Diameter (nm)</text>
<text transform="translate(416.50,152.80) rotate(-90)" x="-0.94" y="0" font-size="10.80" font-weight="normal" fill="#1a1a1a" textLength="97.27" lengthAdjust="spacingAndGlyphs">Pore Absorbed (cm</text>
<text transform="translate(411.20,56.30) rotate(-90)" x="-0.26" y="0" font-size="6.00" font-weight="normal" style="stroke-width:0.1px" fill="#1a1a1a" textLength="3.86" lengthAdjust="spacingAndGlyphs">3</text>
<text transform="translate(416.50,52.60) rotate(-90)" x="-0.00" y="0" font-size="10.80" font-weight="normal" fill="#1a1a1a" textLength="13.70" lengthAdjust="spacingAndGlyphs">/g)</text>
<rect x="48.80" y="331.35" width="270.50" height="198.70" fill="none" stroke="#1a1a1a" stroke-width="1.65" stroke-linejoin="round"/>
<line x1="44.80" y1="530.05" x2="48.80" y2="530.05" stroke="#1a1a1a" stroke-width="1.5"/>
<text x="33.63" y="533.70" font-size="12.30" font-weight="normal" fill="#222" textLength="7.39" lengthAdjust="spacingAndGlyphs">0</text>
<line x1="46.50" y1="515.86" x2="48.80" y2="515.86" stroke="#1a1a1a" stroke-width="1.5"/>
<line x1="44.80" y1="501.66" x2="48.80" y2="501.66" stroke="#1a1a1a" stroke-width="1.5"/>
<text x="26.25" y="505.32" font-size="12.30" font-weight="normal" fill="#222" textLength="14.78" lengthAdjust="spacingAndGlyphs">50</text>
<line x1="46.50" y1="487.47" x2="48.80" y2="487.47" stroke="#1a1a1a" stroke-width="1.5"/>
<line x1="44.80" y1="473.28" x2="48.80" y2="473.28" stroke="#1a1a1a" stroke-width="1.5"/>
<text x="18.85" y="476.93" font-size="12.30" font-weight="normal" fill="#222" textLength="22.16" lengthAdjust="spacingAndGlyphs">100</text>
<line x1="46.50" y1="459.09" x2="48.80" y2="459.09" stroke="#1a1a1a" stroke-width="1.5"/>
<line x1="44.80" y1="444.89" x2="48.80" y2="444.89" stroke="#1a1a1a" stroke-width="1.5"/>
<text x="18.85" y="448.54" font-size="12.30" font-weight="normal" fill="#222" textLength="22.16" lengthAdjust="spacingAndGlyphs">150</text>
<line x1="46.50" y1="430.70" x2="48.80" y2="430.70" stroke="#1a1a1a" stroke-width="1.5"/>
<line x1="44.80" y1="416.51" x2="48.80" y2="416.51" stroke="#1a1a1a" stroke-width="1.5"/>
<text x="18.85" y="420.16" font-size="12.30" font-weight="normal" fill="#222" textLength="22.16" lengthAdjust="spacingAndGlyphs">200</text>
<line x1="46.50" y1="402.31" x2="48.80" y2="402.31" stroke="#1a1a1a" stroke-width="1.5"/>
<line x1="44.80" y1="388.12" x2="48.80" y2="388.12" stroke="#1a1a1a" stroke-width="1.5"/>
<text x="18.85" y="391.77" font-size="12.30" font-weight="normal" fill="#222" textLength="22.16" lengthAdjust="spacingAndGlyphs">250</text>
<line x1="46.50" y1="373.93" x2="48.80" y2="373.93" stroke="#1a1a1a" stroke-width="1.5"/>
<line x1="44.80" y1="359.74" x2="48.80" y2="359.74" stroke="#1a1a1a" stroke-width="1.5"/>
<text x="18.85" y="363.39" font-size="12.30" font-weight="normal" fill="#222" textLength="22.16" lengthAdjust="spacingAndGlyphs">300</text>
<line x1="46.50" y1="345.54" x2="48.80" y2="345.54" stroke="#1a1a1a" stroke-width="1.5"/>
<line x1="44.80" y1="331.35" x2="48.80" y2="331.35" stroke="#1a1a1a" stroke-width="1.5"/>
<text x="18.85" y="335.00" font-size="12.30" font-weight="normal" fill="#222" textLength="22.16" lengthAdjust="spacingAndGlyphs">350</text>
<line x1="48.80" y1="530.05" x2="48.80" y2="534.05" stroke="#1a1a1a" stroke-width="1.5"/>
<text x="39.43" y="547.90" font-size="12.60" font-weight="normal" fill="#222" textLength="16.90" lengthAdjust="spacingAndGlyphs">0.0</text>
<line x1="75.85" y1="530.05" x2="75.85" y2="532.35" stroke="#1a1a1a" stroke-width="1.5"/>
<line x1="102.90" y1="530.05" x2="102.90" y2="534.05" stroke="#1a1a1a" stroke-width="1.5"/>
<text x="93.61" y="547.90" font-size="12.60" font-weight="normal" fill="#222" textLength="16.90" lengthAdjust="spacingAndGlyphs">0.2</text>
<line x1="129.95" y1="530.05" x2="129.95" y2="532.35" stroke="#1a1a1a" stroke-width="1.5"/>
<line x1="157.00" y1="530.05" x2="157.00" y2="534.05" stroke="#1a1a1a" stroke-width="1.5"/>
<text x="147.57" y="547.90" font-size="12.60" font-weight="normal" fill="#222" textLength="16.90" lengthAdjust="spacingAndGlyphs">0.4</text>
<line x1="184.05" y1="530.05" x2="184.05" y2="532.35" stroke="#1a1a1a" stroke-width="1.5"/>
<line x1="211.10" y1="530.05" x2="211.10" y2="534.05" stroke="#1a1a1a" stroke-width="1.5"/>
<text x="201.76" y="547.90" font-size="12.60" font-weight="normal" fill="#222" textLength="16.90" lengthAdjust="spacingAndGlyphs">0.6</text>
<line x1="238.15" y1="530.05" x2="238.15" y2="532.35" stroke="#1a1a1a" stroke-width="1.5"/>
<line x1="265.20" y1="530.05" x2="265.20" y2="534.05" stroke="#1a1a1a" stroke-width="1.5"/>
<text x="255.86" y="547.90" font-size="12.60" font-weight="normal" fill="#222" textLength="16.90" lengthAdjust="spacingAndGlyphs">0.8</text>
<line x1="292.25" y1="530.05" x2="292.25" y2="532.35" stroke="#1a1a1a" stroke-width="1.5"/>
<line x1="319.30" y1="530.05" x2="319.30" y2="534.05" stroke="#1a1a1a" stroke-width="1.5"/>
<text x="309.72" y="547.90" font-size="12.60" font-weight="normal" fill="#222" textLength="16.90" lengthAdjust="spacingAndGlyphs">1.0</text>
<polyline points="52.90,512.60 57.70,507.90 63.00,506.20 73.00,502.10 82.70,498.10 91.00,495.10 99.70,491.30 109.40,487.80 118.60,484.10 127.80,480.40 138.00,476.90 147.90,472.80 157.10,468.70 166.70,465.10 176.90,460.60 184.40,457.30 194.10,453.20 203.90,449.00 213.40,444.90 222.90,440.70 232.20,436.60 241.70,432.00 251.20,427.60 261.00,422.70 270.20,418.30 279.50,412.90 289.00,407.60 298.30,401.70 307.30,393.70 317.10,375.10 318.30,369.50" fill="none" stroke="#ff0000" stroke-width="0.6" stroke-opacity="0.8"/>
<polyline points="52.90,512.60 57.70,507.90 63.00,506.20 73.00,502.10 82.70,498.10 91.00,495.10 99.70,491.30 109.40,487.80 118.60,484.10 127.80,480.40 138.00,476.90 147.90,472.80 157.10,468.70 166.70,465.10 176.90,460.60 185.40,454.40 195.10,449.50 204.40,445.10 214.10,441.00 223.90,436.60 233.20,432.00 242.90,427.10 252.40,422.70 262.20,417.80 272.00,412.90 279.50,408.50 289.30,402.20 301.20,392.70 311.00,381.50 318.30,369.50" fill="none" stroke="#ff0000" stroke-width="0.6" stroke-opacity="0.8"/>
<path d="M50.40 510.35h5.0v4.5h-5.0zM55.20 505.65h5.0v4.5h-5.0zM60.50 503.95h5.0v4.5h-5.0zM70.50 499.85h5.0v4.5h-5.0zM80.20 495.85h5.0v4.5h-5.0zM88.50 492.85h5.0v4.5h-5.0zM97.20 489.05h5.0v4.5h-5.0zM106.90 485.55h5.0v4.5h-5.0zM116.10 481.85h5.0v4.5h-5.0zM125.30 478.15h5.0v4.5h-5.0zM135.50 474.65h5.0v4.5h-5.0zM145.40 470.55h5.0v4.5h-5.0zM154.60 466.45h5.0v4.5h-5.0zM164.20 462.85h5.0v4.5h-5.0zM174.40 458.35h5.0v4.5h-5.0zM181.90 455.05h5.0v4.5h-5.0zM191.60 450.95h5.0v4.5h-5.0zM201.40 446.75h5.0v4.5h-5.0zM210.90 442.65h5.0v4.5h-5.0zM220.40 438.45h5.0v4.5h-5.0zM229.70 434.35h5.0v4.5h-5.0zM239.20 429.75h5.0v4.5h-5.0zM248.70 425.35h5.0v4.5h-5.0zM258.50 420.45h5.0v4.5h-5.0zM267.70 416.05h5.0v4.5h-5.0zM277.00 410.65h5.0v4.5h-5.0zM286.50 405.35h5.0v4.5h-5.0zM295.80 399.45h5.0v4.5h-5.0zM304.80 391.45h5.0v4.5h-5.0zM314.60 372.85h5.0v4.5h-5.0zM315.80 367.25h5.0v4.5h-5.0zM182.90 452.15h5.0v4.5h-5.0zM192.60 447.25h5.0v4.5h-5.0zM201.90 442.85h5.0v4.5h-5.0zM211.60 438.75h5.0v4.5h-5.0zM221.40 434.35h5.0v4.5h-5.0zM230.70 429.75h5.0v4.5h-5.0zM240.40 424.85h5.0v4.5h-5.0zM249.90 420.45h5.0v4.5h-5.0zM259.70 415.55h5.0v4.5h-5.0zM269.50 410.65h5.0v4.5h-5.0zM277.00 406.25h5.0v4.5h-5.0zM286.80 399.95h5.0v4.5h-5.0zM298.70 390.45h5.0v4.5h-5.0zM308.50 379.25h5.0v4.5h-5.0zM315.80 367.25h5.0v4.5h-5.0z" fill="#ff0000"/>
<text x="51.76" y="315.60" font-size="24.40" font-weight="bold" style="stroke-width:0px" fill="#000" textLength="30.27" lengthAdjust="spacingAndGlyphs">(c)</text>
<text x="109.29" y="566.30" font-size="13.90" font-weight="normal" fill="#1a1a1a" textLength="123.95" lengthAdjust="spacingAndGlyphs">Relative Pressure (P/P</text>
<text x="248.97" y="571.80" font-size="8.00" font-weight="normal" fill="#1a1a1a" textLength="4.54" lengthAdjust="spacingAndGlyphs">0</text>
<text x="254.53" y="565.30" font-size="11.50" font-weight="normal" fill="#1a1a1a" textLength="3.14" lengthAdjust="spacingAndGlyphs">)</text>
<text transform="translate(14.10,510.20) rotate(-90)" x="-1.15" y="0" font-size="12.90" font-weight="normal" fill="#1a1a1a" textLength="119.66" lengthAdjust="spacingAndGlyphs">Pore Absorbed (cm</text>
<text transform="translate(6.80,391.80) rotate(-90)" x="-0.27" y="0" font-size="7.00" font-weight="normal" style="stroke-width:0.1px" fill="#1a1a1a" textLength="3.98" lengthAdjust="spacingAndGlyphs">3</text>
<text transform="translate(14.10,387.40) rotate(-90)" x="-0.00" y="0" font-size="12.90" font-weight="normal" fill="#1a1a1a" textLength="16.44" lengthAdjust="spacingAndGlyphs">/g)</text>
<text x="215.24" y="510.00" font-size="13.50" font-weight="normal" fill="#1a1a1a" textLength="63.66" lengthAdjust="spacingAndGlyphs">S= 264.5 m</text>
<text x="287.44" y="502.60" font-size="7.20" font-weight="normal" style="stroke-width:0.1px" fill="#1a1a1a" textLength="4.03" lengthAdjust="spacingAndGlyphs">2</text>
<text x="291.50" y="510.00" font-size="13.50" font-weight="normal" fill="#1a1a1a" textLength="12.67" lengthAdjust="spacingAndGlyphs">/g</text>
<rect x="66.70" y="339.00" width="127.50" height="98.90" fill="#fff" stroke="#1a1a1a" stroke-width="1.7" stroke-linejoin="round"/>
<text x="75.14" y="449.20" font-size="10.60" font-weight="normal" fill="#222" textLength="5.90" lengthAdjust="spacingAndGlyphs">5</text>
<text x="101.03" y="449.20" font-size="10.60" font-weight="normal" fill="#222" textLength="11.79" lengthAdjust="spacingAndGlyphs">10</text>
<text x="130.07" y="449.20" font-size="10.60" font-weight="normal" fill="#222" textLength="11.79" lengthAdjust="spacingAndGlyphs">15</text>
<text x="159.22" y="449.20" font-size="10.60" font-weight="normal" fill="#222" textLength="11.79" lengthAdjust="spacingAndGlyphs">20</text>
<text x="188.26" y="449.20" font-size="10.60" font-weight="normal" fill="#222" textLength="11.79" lengthAdjust="spacingAndGlyphs">25</text>
<polyline points="72.80,421.90 73.50,411.00 74.10,397.80 75.00,386.30 75.90,376.20 76.80,379.00 77.30,369.80 78.60,363.10 79.50,358.90 80.50,355.20 81.70,347.00 82.80,347.90 83.70,363.10 85.00,363.10 86.30,363.10 87.80,363.10 89.00,361.60 90.50,376.60 91.80,379.00 93.30,382.10 94.70,385.70 96.40,394.90 97.80,400.00 99.60,403.60 101.50,404.60 102.90,408.80 105.10,410.00 106.90,411.00 108.40,413.10 110.60,415.50 112.40,415.90 114.60,416.40 117.00,418.60 119.40,419.20 121.30,419.70 124.20,421.10 126.70,421.60 129.10,423.00 132.00,424.10 134.70,423.50 137.50,423.90 140.50,424.60 143.90,425.00 147.00,425.50 150.50,426.10 153.90,426.60 157.70,427.50 161.30,427.00 165.00,426.90 168.80,426.90 173.10,427.00 177.70,427.50 182.20,428.00 186.90,428.00 191.90,428.00" fill="none" stroke="#ff0000" stroke-width="0.5" stroke-opacity="0.6"/>
<path d="M71.90 421.00h1.8v1.8h-1.8zM72.60 410.10h1.8v1.8h-1.8zM73.20 396.90h1.8v1.8h-1.8zM74.10 385.40h1.8v1.8h-1.8zM75.00 375.30h1.8v1.8h-1.8zM75.90 378.10h1.8v1.8h-1.8zM76.40 368.90h1.8v1.8h-1.8zM77.70 362.20h1.8v1.8h-1.8zM78.60 358.00h1.8v1.8h-1.8zM79.60 354.30h1.8v1.8h-1.8zM80.80 346.10h1.8v1.8h-1.8zM81.90 347.00h1.8v1.8h-1.8zM82.80 362.20h1.8v1.8h-1.8zM84.10 362.20h1.8v1.8h-1.8zM85.40 362.20h1.8v1.8h-1.8zM86.90 362.20h1.8v1.8h-1.8zM88.10 360.70h1.8v1.8h-1.8zM89.60 375.70h1.8v1.8h-1.8zM90.90 378.10h1.8v1.8h-1.8zM92.40 381.20h1.8v1.8h-1.8zM93.80 384.80h1.8v1.8h-1.8zM95.50 394.00h1.8v1.8h-1.8zM96.90 399.10h1.8v1.8h-1.8zM98.70 402.70h1.8v1.8h-1.8zM100.60 403.70h1.8v1.8h-1.8zM102.00 407.90h1.8v1.8h-1.8zM104.20 409.10h1.8v1.8h-1.8zM106.00 410.10h1.8v1.8h-1.8zM107.50 412.20h1.8v1.8h-1.8zM109.70 414.60h1.8v1.8h-1.8zM111.50 415.00h1.8v1.8h-1.8zM113.70 415.50h1.8v1.8h-1.8zM116.10 417.70h1.8v1.8h-1.8zM118.50 418.30h1.8v1.8h-1.8zM120.40 418.80h1.8v1.8h-1.8zM123.30 420.20h1.8v1.8h-1.8zM125.80 420.70h1.8v1.8h-1.8zM128.20 422.10h1.8v1.8h-1.8zM131.10 423.20h1.8v1.8h-1.8zM133.80 422.60h1.8v1.8h-1.8zM136.60 423.00h1.8v1.8h-1.8zM139.60 423.70h1.8v1.8h-1.8zM143.00 424.10h1.8v1.8h-1.8zM146.10 424.60h1.8v1.8h-1.8zM149.60 425.20h1.8v1.8h-1.8zM153.00 425.70h1.8v1.8h-1.8zM156.80 426.60h1.8v1.8h-1.8zM160.40 426.10h1.8v1.8h-1.8zM164.10 426.00h1.8v1.8h-1.8zM167.90 426.00h1.8v1.8h-1.8zM172.20 426.10h1.8v1.8h-1.8zM176.80 426.60h1.8v1.8h-1.8zM181.30 427.10h1.8v1.8h-1.8zM186.00 427.10h1.8v1.8h-1.8zM191.00 427.10h1.8v1.8h-1.8z" fill="#ff0000"/>
<text x="101.38" y="358.90" font-size="10.50" font-weight="normal" fill="#1a1a1a" textLength="32.41" lengthAdjust="spacingAndGlyphs">5.9 nm</text>
<text x="77.71" y="459.00" font-size="10.50" font-weight="normal" fill="#1a1a1a" textLength="94.94" lengthAdjust="spacingAndGlyphs">Pore Diameter (nm)</text>
<text transform="translate(62.30,453.80) rotate(-90)" x="-0.95" y="0" font-size="11.50" font-weight="normal" fill="#1a1a1a" textLength="98.09" lengthAdjust="spacingAndGlyphs">Pore Absorbed (cm</text>
<text transform="translate(55.90,356.30) rotate(-90)" x="-0.21" y="0" font-size="5.80" font-weight="normal" style="stroke-width:0.1px" fill="#1a1a1a" textLength="3.04" lengthAdjust="spacingAndGlyphs">3</text>
<text transform="translate(62.30,352.90) rotate(-90)" x="-0.00" y="0" font-size="11.50" font-weight="normal" fill="#1a1a1a" textLength="13.80" lengthAdjust="spacingAndGlyphs">/g)</text>
<rect x="403.50" y="330.50" width="273.45" height="201.00" fill="none" stroke="#1a1a1a" stroke-width="1.65" stroke-linejoin="round"/>
<line x1="399.50" y1="531.50" x2="403.50" y2="531.50" stroke="#1a1a1a" stroke-width="1.5"/>
<text x="387.73" y="535.01" font-size="11.90" font-weight="normal" fill="#222" textLength="6.95" lengthAdjust="spacingAndGlyphs">0</text>
<line x1="401.20" y1="517.14" x2="403.50" y2="517.14" stroke="#1a1a1a" stroke-width="1.5"/>
<line x1="399.50" y1="502.79" x2="403.50" y2="502.79" stroke="#1a1a1a" stroke-width="1.5"/>
<text x="380.80" y="506.30" font-size="11.90" font-weight="normal" fill="#222" textLength="13.90" lengthAdjust="spacingAndGlyphs">50</text>
<line x1="401.20" y1="488.43" x2="403.50" y2="488.43" stroke="#1a1a1a" stroke-width="1.5"/>
<line x1="399.50" y1="474.07" x2="403.50" y2="474.07" stroke="#1a1a1a" stroke-width="1.5"/>
<text x="373.83" y="477.58" font-size="11.90" font-weight="normal" fill="#222" textLength="20.85" lengthAdjust="spacingAndGlyphs">100</text>
<line x1="401.20" y1="459.71" x2="403.50" y2="459.71" stroke="#1a1a1a" stroke-width="1.5"/>
<line x1="399.50" y1="445.36" x2="403.50" y2="445.36" stroke="#1a1a1a" stroke-width="1.5"/>
<text x="373.83" y="448.87" font-size="11.90" font-weight="normal" fill="#222" textLength="20.85" lengthAdjust="spacingAndGlyphs">150</text>
<line x1="401.20" y1="431.00" x2="403.50" y2="431.00" stroke="#1a1a1a" stroke-width="1.5"/>
<line x1="399.50" y1="416.64" x2="403.50" y2="416.64" stroke="#1a1a1a" stroke-width="1.5"/>
<text x="373.83" y="420.15" font-size="11.90" font-weight="normal" fill="#222" textLength="20.85" lengthAdjust="spacingAndGlyphs">200</text>
<line x1="401.20" y1="402.29" x2="403.50" y2="402.29" stroke="#1a1a1a" stroke-width="1.5"/>
<line x1="399.50" y1="387.93" x2="403.50" y2="387.93" stroke="#1a1a1a" stroke-width="1.5"/>
<text x="373.83" y="391.44" font-size="11.90" font-weight="normal" fill="#222" textLength="20.85" lengthAdjust="spacingAndGlyphs">250</text>
<line x1="401.20" y1="373.57" x2="403.50" y2="373.57" stroke="#1a1a1a" stroke-width="1.5"/>
<line x1="399.50" y1="359.21" x2="403.50" y2="359.21" stroke="#1a1a1a" stroke-width="1.5"/>
<text x="373.83" y="362.72" font-size="11.90" font-weight="normal" fill="#222" textLength="20.85" lengthAdjust="spacingAndGlyphs">300</text>
<line x1="401.20" y1="344.86" x2="403.50" y2="344.86" stroke="#1a1a1a" stroke-width="1.5"/>
<line x1="399.50" y1="330.50" x2="403.50" y2="330.50" stroke="#1a1a1a" stroke-width="1.5"/>
<text x="373.83" y="334.01" font-size="11.90" font-weight="normal" fill="#222" textLength="20.85" lengthAdjust="spacingAndGlyphs">350</text>
<line x1="403.50" y1="531.50" x2="403.50" y2="535.50" stroke="#1a1a1a" stroke-width="1.5"/>
<text x="394.25" y="549.60" font-size="12.00" font-weight="normal" fill="#222" textLength="16.68" lengthAdjust="spacingAndGlyphs">0.0</text>
<line x1="430.85" y1="531.50" x2="430.85" y2="533.80" stroke="#1a1a1a" stroke-width="1.5"/>
<line x1="458.19" y1="531.50" x2="458.19" y2="535.50" stroke="#1a1a1a" stroke-width="1.5"/>
<text x="449.01" y="549.60" font-size="12.00" font-weight="normal" fill="#222" textLength="16.68" lengthAdjust="spacingAndGlyphs">0.2</text>
<line x1="485.54" y1="531.50" x2="485.54" y2="533.80" stroke="#1a1a1a" stroke-width="1.5"/>
<line x1="512.88" y1="531.50" x2="512.88" y2="535.50" stroke="#1a1a1a" stroke-width="1.5"/>
<text x="503.56" y="549.60" font-size="12.00" font-weight="normal" fill="#222" textLength="16.68" lengthAdjust="spacingAndGlyphs">0.4</text>
<line x1="540.23" y1="531.50" x2="540.23" y2="533.80" stroke="#1a1a1a" stroke-width="1.5"/>
<line x1="567.57" y1="531.50" x2="567.57" y2="535.50" stroke="#1a1a1a" stroke-width="1.5"/>
<text x="558.35" y="549.60" font-size="12.00" font-weight="normal" fill="#222" textLength="16.68" lengthAdjust="spacingAndGlyphs">0.6</text>
<line x1="594.91" y1="531.50" x2="594.91" y2="533.80" stroke="#1a1a1a" stroke-width="1.5"/>
<line x1="622.26" y1="531.50" x2="622.26" y2="535.50" stroke="#1a1a1a" stroke-width="1.5"/>
<text x="613.03" y="549.60" font-size="12.00" font-weight="normal" fill="#222" textLength="16.68" lengthAdjust="spacingAndGlyphs">0.8</text>
<line x1="649.61" y1="531.50" x2="649.61" y2="533.80" stroke="#1a1a1a" stroke-width="1.5"/>
<line x1="676.95" y1="531.50" x2="676.95" y2="535.50" stroke="#1a1a1a" stroke-width="1.5"/>
<text x="667.49" y="549.60" font-size="12.00" font-weight="normal" fill="#222" textLength="16.68" lengthAdjust="spacingAndGlyphs">1.0</text>
<polyline points="406.60,510.80 411.80,508.00 416.60,505.80 427.00,501.60 436.80,497.70 445.10,494.40 453.90,491.10 463.80,487.10 473.20,483.10 482.80,479.40 492.60,475.50 502.90,471.40 512.10,467.70 521.70,464.00 530.90,459.50 539.70,456.20 549.90,451.80 559.60,447.60 569.00,443.40 578.60,439.00 588.30,434.50 597.70,430.10 607.40,425.60 616.80,420.70 626.50,415.70 636.10,411.00 645.50,405.30 654.70,399.20 664.30,391.40 672.70,378.30 675.10,371.80" fill="none" stroke="#008080" stroke-width="0.6" stroke-opacity="0.8"/>
<polyline points="406.60,510.80 411.80,508.00 416.60,505.80 427.00,501.60 436.80,497.70 445.10,494.40 453.90,491.10 463.80,487.10 473.20,483.10 482.80,479.40 492.60,475.50 502.90,471.40 512.10,467.70 521.70,464.00 530.90,459.50 540.70,452.80 550.70,448.90 560.30,444.50 569.80,439.70 579.40,435.00 589.10,430.60 598.80,425.90 608.70,420.90 618.10,416.20 627.80,411.00 638.20,405.30 648.10,398.70 656.00,392.70 666.20,382.50 675.10,371.80" fill="none" stroke="#008080" stroke-width="0.6" stroke-opacity="0.8"/>
<path d="M404.10 508.55h5.0v4.5h-5.0zM409.30 505.75h5.0v4.5h-5.0zM414.10 503.55h5.0v4.5h-5.0zM424.50 499.35h5.0v4.5h-5.0zM434.30 495.45h5.0v4.5h-5.0zM442.60 492.15h5.0v4.5h-5.0zM451.40 488.85h5.0v4.5h-5.0zM461.30 484.85h5.0v4.5h-5.0zM470.70 480.85h5.0v4.5h-5.0zM480.30 477.15h5.0v4.5h-5.0zM490.10 473.25h5.0v4.5h-5.0zM500.40 469.15h5.0v4.5h-5.0zM509.60 465.45h5.0v4.5h-5.0zM519.20 461.75h5.0v4.5h-5.0zM528.40 457.25h5.0v4.5h-5.0zM537.20 453.95h5.0v4.5h-5.0zM547.40 449.55h5.0v4.5h-5.0zM557.10 445.35h5.0v4.5h-5.0zM566.50 441.15h5.0v4.5h-5.0zM576.10 436.75h5.0v4.5h-5.0zM585.80 432.25h5.0v4.5h-5.0zM595.20 427.85h5.0v4.5h-5.0zM604.90 423.35h5.0v4.5h-5.0zM614.30 418.45h5.0v4.5h-5.0zM624.00 413.45h5.0v4.5h-5.0zM633.60 408.75h5.0v4.5h-5.0zM643.00 403.05h5.0v4.5h-5.0zM652.20 396.95h5.0v4.5h-5.0zM661.80 389.15h5.0v4.5h-5.0zM670.20 376.05h5.0v4.5h-5.0zM672.60 369.55h5.0v4.5h-5.0zM538.20 450.55h5.0v4.5h-5.0zM548.20 446.65h5.0v4.5h-5.0zM557.80 442.25h5.0v4.5h-5.0zM567.30 437.45h5.0v4.5h-5.0zM576.90 432.75h5.0v4.5h-5.0zM586.60 428.35h5.0v4.5h-5.0zM596.30 423.65h5.0v4.5h-5.0zM606.20 418.65h5.0v4.5h-5.0zM615.60 413.95h5.0v4.5h-5.0zM625.30 408.75h5.0v4.5h-5.0zM635.70 403.05h5.0v4.5h-5.0zM645.60 396.45h5.0v4.5h-5.0zM653.50 390.45h5.0v4.5h-5.0zM663.70 380.25h5.0v4.5h-5.0zM672.60 369.55h5.0v4.5h-5.0z" fill="#008080"/>
<text x="408.69" y="316.20" font-size="24.40" font-weight="bold" style="stroke-width:0px" fill="#000" textLength="30.80" lengthAdjust="spacingAndGlyphs">(d)</text>
<text x="464.38" y="565.30" font-size="13.40" font-weight="normal" fill="#1a1a1a" textLength="125.27" lengthAdjust="spacingAndGlyphs">Relative Pressure (P/P</text>
<text x="606.16" y="570.90" font-size="8.40" font-weight="normal" fill="#1a1a1a" textLength="4.78" lengthAdjust="spacingAndGlyphs">0</text>
<text x="611.53" y="564.30" font-size="12.20" font-weight="normal" fill="#1a1a1a" textLength="3.27" lengthAdjust="spacingAndGlyphs">)</text>
<text transform="translate(367.00,507.50) rotate(-90)" x="-0.56" y="0" font-size="11.80" font-weight="normal" fill="#1a1a1a" textLength="119.64" lengthAdjust="spacingAndGlyphs">Quantity Absorbed (cm</text>
<text transform="translate(361.30,387.90) rotate(-90)" x="-0.21" y="0" font-size="5.60" font-weight="normal" style="stroke-width:0.1px" fill="#1a1a1a" textLength="3.04" lengthAdjust="spacingAndGlyphs">3</text>
<text transform="translate(367.00,384.70) rotate(-90)" x="-0.00" y="0" font-size="11.80" font-weight="normal" fill="#1a1a1a" textLength="13.38" lengthAdjust="spacingAndGlyphs">/g)</text>
<text x="573.83" y="510.10" font-size="13.70" font-weight="normal" fill="#1a1a1a" textLength="61.48" lengthAdjust="spacingAndGlyphs">S=235.2 m</text>
<text x="642.54" y="502.60" font-size="7.20" font-weight="normal" style="stroke-width:0.1px" fill="#1a1a1a" textLength="4.03" lengthAdjust="spacingAndGlyphs">2</text>
<text x="647.10" y="510.10" font-size="13.70" font-weight="normal" fill="#1a1a1a" textLength="12.67" lengthAdjust="spacingAndGlyphs">/g</text>
<rect x="420.70" y="338.50" width="123.25" height="98.35" fill="#fff" stroke="#1a1a1a" stroke-width="1.7" stroke-linejoin="round"/>
<line x1="432.02" y1="436.85" x2="432.02" y2="438.45" stroke="#1a1a1a" stroke-width="1.0"/>
<text x="429.27" y="447.40" font-size="9.90" font-weight="normal" fill="#222" textLength="5.51" lengthAdjust="spacingAndGlyphs">5</text>
<line x1="445.89" y1="436.85" x2="445.89" y2="438.05" stroke="#1a1a1a" stroke-width="1.0"/>
<line x1="459.77" y1="436.85" x2="459.77" y2="438.45" stroke="#1a1a1a" stroke-width="1.0"/>
<text x="454.09" y="447.40" font-size="9.90" font-weight="normal" fill="#222" textLength="11.01" lengthAdjust="spacingAndGlyphs">10</text>
<line x1="473.64" y1="436.85" x2="473.64" y2="438.05" stroke="#1a1a1a" stroke-width="1.0"/>
<line x1="487.51" y1="436.85" x2="487.51" y2="438.45" stroke="#1a1a1a" stroke-width="1.0"/>
<text x="481.85" y="447.40" font-size="9.90" font-weight="normal" fill="#222" textLength="11.01" lengthAdjust="spacingAndGlyphs">15</text>
<line x1="501.39" y1="436.85" x2="501.39" y2="438.05" stroke="#1a1a1a" stroke-width="1.0"/>
<line x1="515.26" y1="436.85" x2="515.26" y2="438.45" stroke="#1a1a1a" stroke-width="1.0"/>
<text x="509.70" y="447.40" font-size="9.90" font-weight="normal" fill="#222" textLength="11.01" lengthAdjust="spacingAndGlyphs">20</text>
<line x1="529.13" y1="436.85" x2="529.13" y2="438.05" stroke="#1a1a1a" stroke-width="1.0"/>
<line x1="543.01" y1="436.85" x2="543.01" y2="438.45" stroke="#1a1a1a" stroke-width="1.0"/>
<text x="537.46" y="447.40" font-size="9.90" font-weight="normal" fill="#222" textLength="11.01" lengthAdjust="spacingAndGlyphs">25</text>
<polyline points="423.10,420.10 423.90,409.70 424.80,396.00 425.30,385.00 425.90,374.90 426.80,377.10 427.70,368.50 428.60,361.60 429.50,357.00 430.40,354.30 431.20,349.70 432.10,347.90 433.20,361.60 434.50,361.20 435.70,361.60 437.20,360.70 438.50,361.60 439.60,363.40 439.90,373.80 441.40,375.90 442.70,379.90 444.50,383.50 445.80,391.40 447.30,396.00 448.70,399.60 450.40,400.40 452.20,405.10 454.00,406.40 455.80,406.90 457.70,408.80 459.70,411.30 461.50,411.50 463.30,412.20 465.90,414.60 468.30,415.00 470.60,415.50 472.80,416.40 475.10,417.00 477.90,418.70 480.10,419.70 482.90,419.20 485.90,419.80 488.80,420.00 491.80,420.30 494.90,421.10 498.20,421.90 501.70,422.00 505.30,422.80 509.00,422.50 512.60,422.40 516.20,422.40 520.40,422.40 524.50,422.80 528.70,423.30 533.00,423.30 537.80,423.30 542.80,423.60" fill="none" stroke="#008080" stroke-width="0.5" stroke-opacity="0.6"/>
<path d="M422.20 419.20h1.8v1.8h-1.8zM423.00 408.80h1.8v1.8h-1.8zM423.90 395.10h1.8v1.8h-1.8zM424.40 384.10h1.8v1.8h-1.8zM425.00 374.00h1.8v1.8h-1.8zM425.90 376.20h1.8v1.8h-1.8zM426.80 367.60h1.8v1.8h-1.8zM427.70 360.70h1.8v1.8h-1.8zM428.60 356.10h1.8v1.8h-1.8zM429.50 353.40h1.8v1.8h-1.8zM430.30 348.80h1.8v1.8h-1.8zM431.20 347.00h1.8v1.8h-1.8zM432.30 360.70h1.8v1.8h-1.8zM433.60 360.30h1.8v1.8h-1.8zM434.80 360.70h1.8v1.8h-1.8zM436.30 359.80h1.8v1.8h-1.8zM437.60 360.70h1.8v1.8h-1.8zM438.70 362.50h1.8v1.8h-1.8zM439.00 372.90h1.8v1.8h-1.8zM440.50 375.00h1.8v1.8h-1.8zM441.80 379.00h1.8v1.8h-1.8zM443.60 382.60h1.8v1.8h-1.8zM444.90 390.50h1.8v1.8h-1.8zM446.40 395.10h1.8v1.8h-1.8zM447.80 398.70h1.8v1.8h-1.8zM449.50 399.50h1.8v1.8h-1.8zM451.30 404.20h1.8v1.8h-1.8zM453.10 405.50h1.8v1.8h-1.8zM454.90 406.00h1.8v1.8h-1.8zM456.80 407.90h1.8v1.8h-1.8zM458.80 410.40h1.8v1.8h-1.8zM460.60 410.60h1.8v1.8h-1.8zM462.40 411.30h1.8v1.8h-1.8zM465.00 413.70h1.8v1.8h-1.8zM467.40 414.10h1.8v1.8h-1.8zM469.70 414.60h1.8v1.8h-1.8zM471.90 415.50h1.8v1.8h-1.8zM474.20 416.10h1.8v1.8h-1.8zM477.00 417.80h1.8v1.8h-1.8zM479.20 418.80h1.8v1.8h-1.8zM482.00 418.30h1.8v1.8h-1.8zM485.00 418.90h1.8v1.8h-1.8zM487.90 419.10h1.8v1.8h-1.8zM490.90 419.40h1.8v1.8h-1.8zM494.00 420.20h1.8v1.8h-1.8zM497.30 421.00h1.8v1.8h-1.8zM500.80 421.10h1.8v1.8h-1.8zM504.40 421.90h1.8v1.8h-1.8zM508.10 421.60h1.8v1.8h-1.8zM511.70 421.50h1.8v1.8h-1.8zM515.30 421.50h1.8v1.8h-1.8zM519.50 421.50h1.8v1.8h-1.8zM523.60 421.90h1.8v1.8h-1.8zM527.80 422.40h1.8v1.8h-1.8zM532.10 422.40h1.8v1.8h-1.8zM536.90 422.40h1.8v1.8h-1.8zM541.90 422.70h1.8v1.8h-1.8z" fill="#008080"/>
<text x="450.28" y="357.60" font-size="10.30" font-weight="normal" fill="#1a1a1a" textLength="32.20" lengthAdjust="spacingAndGlyphs">5.8 nm</text>
<text x="424.31" y="456.80" font-size="11.00" font-weight="normal" fill="#1a1a1a" textLength="94.33" lengthAdjust="spacingAndGlyphs">Pore Diameter (nm)</text>
<text transform="translate(417.30,453.20) rotate(-90)" x="-0.95" y="0" font-size="11.00" font-weight="normal" fill="#1a1a1a" textLength="98.39" lengthAdjust="spacingAndGlyphs">Pore Absorbed (cm</text>
<text transform="translate(411.30,355.00) rotate(-90)" x="-0.19" y="0" font-size="6.00" font-weight="normal" style="stroke-width:0.1px" fill="#1a1a1a" textLength="2.81" lengthAdjust="spacingAndGlyphs">3</text>
<text transform="translate(417.30,351.60) rotate(-90)" x="-0.00" y="0" font-size="11.00" font-weight="normal" fill="#1a1a1a" textLength="13.28" lengthAdjust="spacingAndGlyphs">/g)</text>
</svg>
</body></html>
